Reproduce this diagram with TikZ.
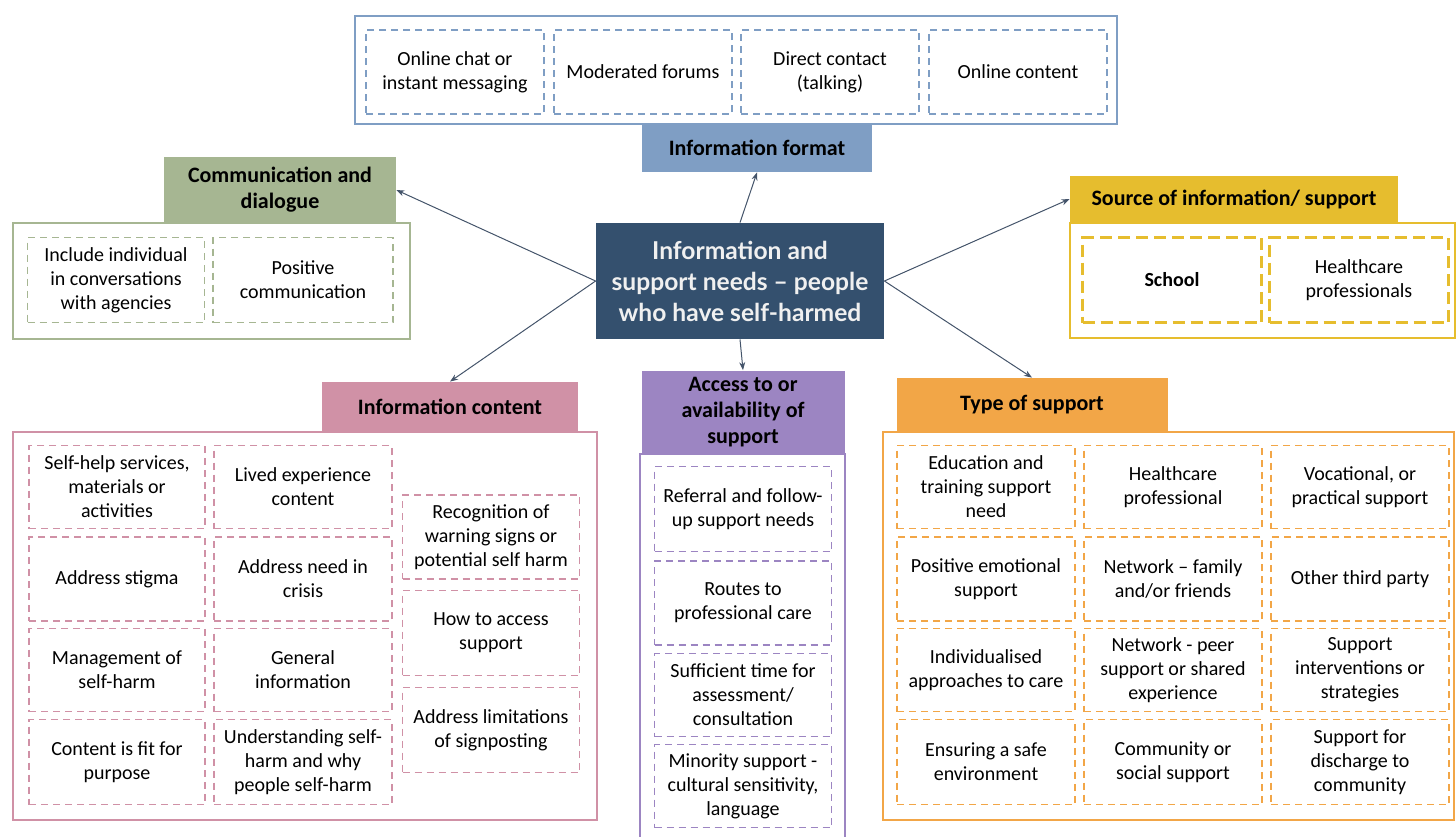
\documentclass[tikz,border=0pt]{standalone}
\usepackage{fontspec}
\setmainfont{Carlito}
\newfontfamily\hubfont{Lato}
\usetikzlibrary{arrows.meta}

\definecolor{hubblue}{HTML}{34506E}
\definecolor{fmtblue}{HTML}{7F9EC4}
\definecolor{commgreen}{HTML}{A6B692}
\definecolor{srcgold}{HTML}{E6BD2E}
\definecolor{contpink}{HTML}{D091A6}
\definecolor{accpurple}{HTML}{9C85C2}
\definecolor{typeorange}{HTML}{F2A647}
\definecolor{arrowgrey}{HTML}{44546A}

\tikzset{
	wd/.style={minimum width=#1*0.5pt},
	ht/.style={minimum height=#1*0.5pt},
	group/.style={draw=#1, line width=1pt, fill=white, inner sep=0pt},
	cell/.style={draw=#1, line width=0.75pt, dash pattern=on 3.5pt off 2.5pt, align=center, inner sep=1pt, font=\fontsize{10}{12}\selectfont},
	tag/.style={fill=#1, align=center, inner sep=0pt, font=\fontsize{11}{13}\selectfont\bfseries},
	link/.style={draw=arrowgrey, line width=0.5pt, -{Stealth[length=4pt,width=3pt]}},
}

\begin{document}
\begin{tikzpicture}[x=0.5pt, y=-0.5pt]
		\useasboundingbox (0,0) rectangle (1456,836);

		% information format
		\node (fmtbox) [group=fmtblue, wd=762, ht=108] at (736,70) {};
		\node (fmt1) [cell=fmtblue, wd=178, ht=84] at (455,72) {Online chat or\\instant messaging};
		\node (fmt2) [cell=fmtblue, wd=178, ht=84] at (643,72) {Moderated forums};
		\node (fmt3) [cell=fmtblue, wd=178, ht=84] at (830,72) {Direct contact\\(talking)};
		\node (fmt4) [cell=fmtblue, wd=178, ht=84] at (1018,72) {Online content};
		\node (fmt) [tag=fmtblue, wd=230, ht=48] at (757,148) {Information format};

		% communication and dialogue
		\node (commbox) [group=commgreen, wd=397, ht=116] at (211,281) {};
		\node (comm1) [cell=commgreen, wd=177, ht=85] at (116,280) {Include individual\\in conversations\\with agencies};
		\node (comm2) [cell=commgreen, wd=180, ht=85] at (303,280) {Positive\\communication};
		\node (comm) [tag=commgreen, wd=232, ht=66] at (280,190) {Communication and\\dialogue};

		% source of information
		\node (srcbox) [group=srcgold, wd=385, ht=115] at (1262,280) {};
		\node (src1) [cell=srcgold, line width=1.5pt, dash pattern=on 6pt off 3pt, wd=179, ht=85, font=\fontsize{10}{12}\selectfont\bfseries] at (1172,280) {School};
		\node (src2) [cell=srcgold, line width=1.5pt, dash pattern=on 6pt off 3pt, wd=179, ht=85] at (1359,280) {Healthcare\\professionals};
		\node (src) [tag=srcgold, wd=328, ht=47] at (1234,199) {Source of information/ support};

		% centre
		\node (hub) [fill=hubblue, text=white!94!black, wd=288, ht=116, align=center, inner sep=0pt, font=\hubfont\bfseries\fontsize{12.3}{15.5}\selectfont] at (740,281) {Information and\\support needs – people\\who have self-harmed};

		% information content
		\node (contbox) [group=contpink, wd=584, ht=388] at (305,626) {};
		\node (cont1) [cell=contpink, wd=176, ht=83] at (117,487) {Self-help services,\\materials or\\activities};
		\node (cont2) [cell=contpink, wd=178, ht=83] at (303,487) {Lived experience\\content};
		\node (cont3) [cell=contpink, wd=176, ht=84] at (117,579) {Address stigma};
		\node (cont4) [cell=contpink, wd=178, ht=84] at (303,579) {Address need in\\crisis};
		\node (cont5) [cell=contpink, wd=176, ht=83] at (117,670) {Management of\\self-harm};
		\node (cont6) [cell=contpink, wd=178, ht=83] at (303,670) {General\\information};
		\node (cont7) [cell=contpink, wd=176, ht=85] at (117,762) {Content is fit for\\purpose};
		\node (cont8) [cell=contpink, wd=178, ht=85] at (303,762) {Understanding self-\\harm and why\\people self-harm};
		\node (cont9) [cell=contpink, wd=177, ht=84] at (491,537) {Recognition of\\warning signs or\\potential self harm};
		\node (cont10) [cell=contpink, wd=177, ht=85] at (491,633) {How to access\\support};
		\node (cont11) [cell=contpink, wd=177, ht=85] at (491,730) {Address limitations\\of signposting};
		\node (cont) [tag=contpink, wd=256, ht=50] at (450,407) {Information content};

		% access to support
		\node (accbox) [group=accpurple, wd=205, ht=391] at (742,649) {};
		\node (acc1) [cell=accpurple, wd=177, ht=85] at (743,509) {Referral and follow-\\up support needs};
		\node (acc2) [cell=accpurple, wd=177, ht=84] at (743,603) {Routes to\\professional care};
		\node (acc3) [cell=accpurple, wd=177, ht=83] at (743,695) {Sufficient time for\\assessment/\\consultation};
		\node (acc4) [cell=accpurple, wd=177, ht=83] at (743,786) {Minority support -\\cultural sensitivity,\\language};
		\node (acc) [tag=accpurple, wd=203, ht=83] at (743,412) {Access to or\\availability of\\support};

		% type of support
		\node (typebox) [group=typeorange, wd=571, ht=388] at (1168,626) {};
		\node (type1) [cell=typeorange, wd=178, ht=83] at (986,487) {Education and\\training support\\need};
		\node (type2) [cell=typeorange, wd=178, ht=83] at (1173,487) {Healthcare\\professional};
		\node (type3) [cell=typeorange, wd=178, ht=83] at (1360,487) {Vocational, or\\practical support};
		\node (type4) [cell=typeorange, wd=178, ht=84] at (986,579) {Positive emotional\\support};
		\node (type5) [cell=typeorange, wd=178, ht=84] at (1173,579) {Network – family\\and/or friends};
		\node (type6) [cell=typeorange, wd=178, ht=84] at (1360,579) {Other third party};
		\node (type7) [cell=typeorange, wd=178, ht=83] at (986,670) {Individualised\\approaches to care};
		\node (type8) [cell=typeorange, wd=178, ht=83] at (1173,670) {Network - peer\\support or shared\\experience};
		\node (type9) [cell=typeorange, wd=178, ht=83] at (1360,670) {Support\\interventions or\\strategies};
		\node (type10) [cell=typeorange, wd=178, ht=85] at (986,762) {Ensuring a safe\\environment};
		\node (type11) [cell=typeorange, wd=178, ht=85] at (1173,762) {Community or\\social support};
		\node (type12) [cell=typeorange, wd=178, ht=85] at (1360,762) {Support for\\discharge to\\community};
		\node (type) [tag=typeorange, wd=271, ht=54] at (1032,405) {Type of support};

		\draw[link] (hub.north) -- (fmt.south);
		\draw[link] (hub.west) -- (comm.east);
		\draw[link] (hub.west) -- (cont.north);
		\draw[link] (hub.south) -- (acc.north);
		\draw[link] (hub.east) -- (src.west);
		\draw[link] (hub.east) -- (type.north);
	\end{tikzpicture}
\end{document}
